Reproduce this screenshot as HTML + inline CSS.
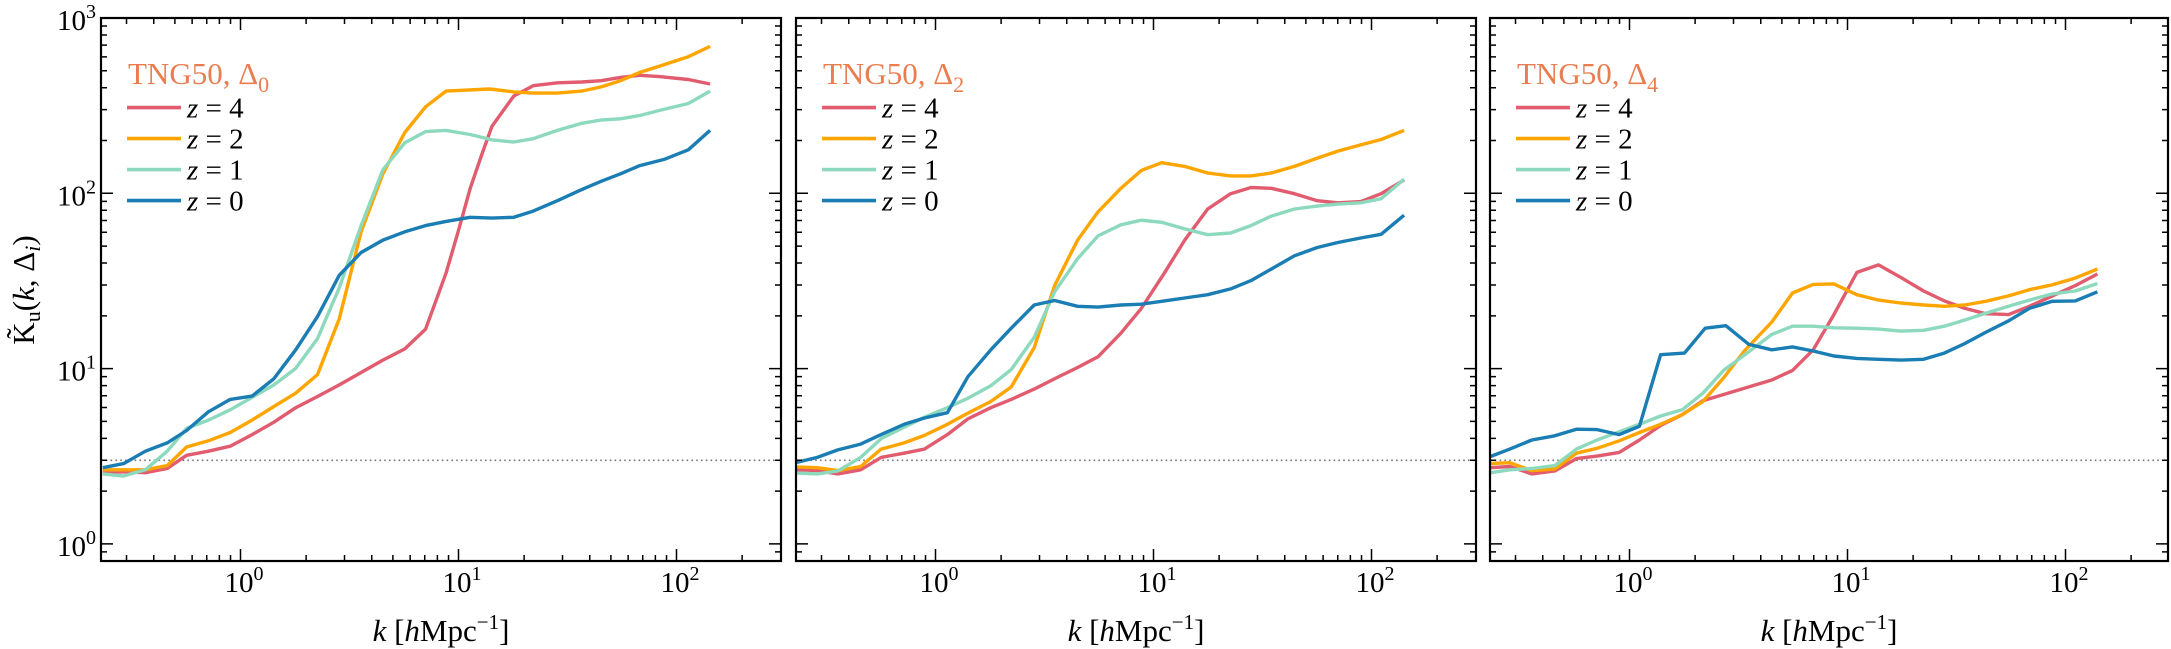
<!DOCTYPE html>
<html><head><meta charset="utf-8">
<style>
html,body{margin:0;padding:0;background:#fff;}
svg{display:block;}
text,tspan{font-family:"Liberation Serif","DejaVu Serif",serif;}
</style></head>
<body>
<svg id="s" width="2171" height="649" xmlns="http://www.w3.org/2000/svg"></svg>
<script>
const NS="http://www.w3.org/2000/svg";
const svg=document.getElementById('s');
function el(tag,attrs,txt){const e=document.createElementNS(NS,tag);for(const k in attrs)e.setAttribute(k,attrs[k]);if(txt!==undefined)e.textContent=txt;svg.appendChild(e);return e;}
function txt(attrs,parts){const t=el('text',Object.assign({'font-family':'Liberation Serif, DejaVu Serif, serif'},attrs));
  parts.forEach(p=>{const s=document.createElementNS(NS,'tspan');for(const k in p)if(k!='t')s.setAttribute(k,p[k]);s.textContent=p.t;t.appendChild(s);});return t;}
const TOP=18,BOT=561,YD=175.3,Y0=543.9;
const COLORS=["#e05c6e","#ffa500","#8dd9bd","#1a7db3"];
const panels=[
 {L:101,R:781,sx:2.063,ox:0,sub:"0",data:[
  [[212,1140],[255,1140],[300,1142],[345,1132],[385,1100],[430,1090],[475,1078],[520,1050],[565,1020],[610,985],[655,958],[700,930],[745,900],[790,870],[835,843],[878,795],[920,660],[945,560],[970,455],[995,370],[1015,305],[1060,232],[1100,207],[1150,200],[1200,198],[1240,195],[1280,187],[1320,182],[1360,185],[1420,192],[1465,203]],
  [[212,1135],[255,1135],[300,1135],[345,1125],[385,1080],[430,1065],[475,1045],[520,1015],[565,982],[610,950],[655,905],[700,770],[745,560],[790,420],[835,320],[878,258],[920,220],[1010,215],[1060,222],[1100,225],[1150,225],[1200,220],[1240,210],[1280,195],[1320,175],[1360,160],[1420,137],[1465,112]],
  [[212,1145],[255,1150],[300,1135],[345,1090],[385,1035],[430,1015],[475,990],[520,960],[565,930],[610,890],[655,818],[700,695],[745,545],[790,410],[835,345],[878,318],[920,315],[970,325],[1015,338],[1060,343],[1100,335],[1150,315],[1200,298],[1240,290],[1280,287],[1320,279],[1360,267],[1420,250],[1465,220]],
  [[212,1130],[255,1120],[300,1090],[345,1070],[385,1040],[430,995],[475,965],[520,957],[565,915],[610,845],[655,765],[700,665],[745,610],[790,580],[835,560],[878,545],[920,535],[970,525],[1015,527],[1060,525],[1100,510],[1150,485],[1200,458],[1240,438],[1280,420],[1320,400],[1370,385],[1420,362],[1465,315]]]},
 {L:796,R:1476,sx:1.96,ox:700,sub:"2",data:[
  [[190,1135],[230,1137],[270,1145],[315,1135],[355,1105],[400,1095],[440,1085],[485,1050],[525,1012],[570,985],[610,965],[655,940],[700,912],[740,888],[780,862],[825,805],[865,745],[910,660],[950,580],[995,505],[1040,468],[1080,453],[1120,455],[1165,468],[1210,485],[1250,490],[1295,487],[1335,468],[1380,435]],
  [[190,1128],[230,1130],[270,1137],[315,1127],[355,1085],[400,1070],[440,1052],[485,1025],[525,998],[570,970],[610,935],[655,840],[695,690],[740,580],[780,512],[825,455],[865,412],[905,393],[950,402],[995,418],[1040,425],[1080,425],[1120,418],[1165,402],[1210,382],[1250,365],[1295,350],[1335,337],[1380,315]],
  [[190,1143],[230,1145],[270,1138],[315,1105],[355,1060],[400,1032],[440,1008],[485,985],[525,962],[570,932],[610,893],[655,815],[695,705],[740,625],[780,570],[825,543],[865,532],[905,537],[950,553],[995,567],[1040,563],[1080,545],[1120,522],[1165,505],[1210,498],[1250,493],[1295,490],[1335,480],[1380,433]],
  [[190,1117],[230,1105],[270,1087],[315,1073],[355,1050],[400,1025],[440,1010],[485,997],[525,910],[570,845],[610,793],[655,737],[695,726],[740,740],[780,742],[825,737],[865,735],[910,727],[950,720],[995,712],[1040,698],[1080,678],[1120,650],[1165,618],[1210,598],[1250,586],[1295,575],[1335,566],[1380,520]]]},
 {L:1490,R:2168,sx:2.175,ox:1450,sub:"4",data:[
  [[88,1130],[130,1127],[178,1145],[228,1138],[275,1108],[320,1102],[368,1093],[412,1063],[458,1028],[505,1002],[550,968],[595,953],[640,938],[700,918],[745,895],[790,845],[835,760],[885,658],[932,640],[980,670],[1030,703],[1075,727],[1120,745],[1165,758],[1215,760],[1260,740],[1310,715],[1360,690],[1408,662]],
  [[88,1120],[130,1118],[178,1137],[228,1133],[275,1095],[320,1083],[368,1065],[412,1045],[458,1025],[505,1002],[550,970],[595,913],[640,848],[700,778],[745,708],[790,687],[835,686],[885,712],[932,725],[980,732],[1030,737],[1075,740],[1120,737],[1165,728],[1215,715],[1260,700],[1310,688],[1360,672],[1408,650]],
  [[88,1142],[130,1135],[178,1132],[228,1125],[275,1085],[320,1063],[368,1043],[412,1025],[458,1005],[505,990],[550,950],[595,895],[640,858],[700,808],[745,788],[790,788],[835,792],[885,793],[932,795],[980,800],[1030,798],[1075,788],[1120,773],[1165,757],[1215,740],[1260,725],[1310,710],[1360,703],[1408,685]],
  [[88,1103],[130,1085],[178,1063],[228,1053],[275,1037],[320,1038],[368,1050],[412,1030],[458,857],[510,853],[555,793],[600,787],[650,832],[700,845],[745,838],[790,848],[835,860],[885,866],[932,868],[980,870],[1030,868],[1075,853],[1120,830],[1165,803],[1215,775],[1260,745],[1310,728],[1360,727],[1408,705]]]}
];
const XD=218, SY=2.416;
panels.forEach((p,pi)=>{
  const x0=p.L+139.5;
  const X=l=>x0+l*XD, Y=l=>Y0-l*YD;
  el('line',{x1:p.L,x2:p.R,y1:460.3,y2:460.3,stroke:'#777','stroke-width':1.6,'stroke-dasharray':'1.6,3.2'});
  p.data.forEach((d,i)=>{
    const pts=d.map(q=>((p.ox+q[0]/p.sx).toFixed(1)+','+(q[1]/SY).toFixed(1))).join(' ');
    el('polyline',{points:pts,fill:'none',stroke:COLORS[i],'stroke-width':3.4,'stroke-linejoin':'round'});
  });
  let tk='';
  for(let dec=-1;dec<=2;dec++){for(let m=1;m<=9;m++){const l=dec+Math.log10(m);const x=X(l);if(x<p.L+1||x>p.R-1)continue;const len=m==1?12:6;
    tk+=`M${x},${BOT}v${-len}M${x},${TOP}v${len}`;}}
  for(let dec=-1;dec<=2;dec++){for(let m=1;m<=9;m++){const l=dec+Math.log10(m);const y=Y(l);if(y<TOP+1||y>BOT-1)continue;const len=m==1?12:6;
    tk+=`M${p.L},${y}h${len}M${p.R},${y}h${-len}`;}}
  el('path',{d:tk,stroke:'#000','stroke-width':1.5,fill:'none'});
  el('rect',{x:p.L,y:TOP,width:p.R-p.L,height:BOT-TOP,fill:'none',stroke:'#000','stroke-width':2.2});
  [0,1,2].forEach(e=>{
    txt({x:X(e)-16,y:592,'font-size':29},[{t:'10'},{t:String(e),dy:-12,'font-size':20}]);
  });
  txt({x:(p.L+p.R)/2,y:641,'font-size':31,'text-anchor':'middle'},[
    {t:'k','font-style':'italic'},{t:' ['},{t:'h','font-style':'italic'},{t:'Mpc'},{t:'−1',dy:-12,'font-size':21},{t:']',dy:12}]);
  txt({x:p.L+27,y:84,'font-size':31,fill:'#ea7d50'},[{t:'TNG50, Δ'},{t:p.sub,dy:8,'font-size':22}]);
  ['4','2','1','0'].forEach((z,i)=>{
    const y=107.6+i*31;
    el('line',{x1:p.L+26,x2:p.L+80,y1:y,y2:y,stroke:COLORS[i],'stroke-width':3.6});
    txt({x:p.L+86,y:y+10,'font-size':29},[{t:'z','font-style':'italic'},{t:' = '+z}]);
  });
  if(pi==0){
    [0,1,2,3].forEach(e=>{
      txt({x:96,y:Y(e)+12,'font-size':29,'text-anchor':'end'},[{t:'10'},{t:String(e),dy:-12,'font-size':20}]);
    });
    txt({x:0,y:0,'font-size':31,'text-anchor':'middle',transform:'translate(34,290) rotate(-90)'},[
      {t:'K̃'},{t:'u',dy:6,'font-size':22},{t:'(',dy:-6},{t:'k','font-style':'italic'},{t:', Δ'},{t:'i',dy:6,'font-size':22,'font-style':'italic'},{t:')',dy:-6}]);
  }
});
</script>
</body></html>
